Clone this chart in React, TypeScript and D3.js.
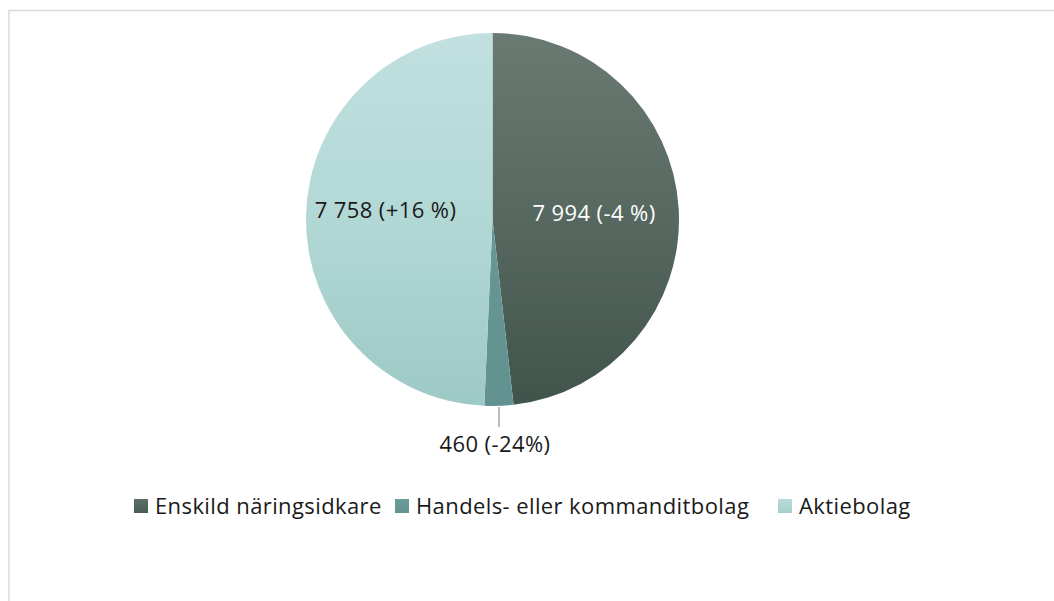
import React from "react";
import * as d3 from "d3";

const categories = ["Enskild näringsidkare", "Handels- eller kommanditbolag", "Aktiebolag"];
// slice shares (percent of the circle)
const shares = [48.2, 2.5, 49.3];
const labels = ["7 994 (-4 %)", "460 (-24%)", "7 758 (+16 %)"];
const gradTop = ["#687a71", "#6f9f9d", "#c1e0df"];
const gradMid = ["#56685f", "#689896", "#b2d8d5"];
const gradBottom = ["#41544b", "#619290", "#9dc9c5"];

export default function App() {
  const W = 1054, H = 601;
  const cx = 492.5, cy = 219.5, r = 186.5;
  const pie = d3.pie<number>().sort(null).value((d) => d)(shares);
  const arc = d3.arc<d3.PieArcDatum<number>>().innerRadius(0).outerRadius(r);
  const font = "'Open Sans', 'Noto Sans', sans-serif";
  const fs = 22;
  const ls = 0.4;

  const legendX = [134, 395, 778];
  return (
    <svg width={W} height={H} style={{ position: "absolute", left: 0, top: 0 }}>
      <defs>
        {shares.map((_, i) => (
          <linearGradient key={i} id={`g${i}`} gradientUnits="userSpaceOnUse" x1={0} y1={-r} x2={0} y2={r}>
            <stop offset="0" stopColor={gradTop[i]} />
            <stop offset="0.5" stopColor={gradMid[i]} />
            <stop offset="1" stopColor={gradBottom[i]} />
          </linearGradient>
        ))}
        {shares.map((_, i) => (
          <linearGradient key={"l" + i} id={`lg${i}`} x1={0} y1={0} x2={0} y2={1}>
            <stop offset="0" stopColor={d3.interpolateRgb(gradTop[i], gradMid[i])(0.6)} />
            <stop offset="1" stopColor={d3.interpolateRgb(gradMid[i], gradBottom[i])(0.6)} />
          </linearGradient>
        ))}
      </defs>
      <rect x={9} y={10.5} width={1100} height={700} fill="#fff" stroke="#d9d9d9" strokeWidth={1.5} />
      <g transform={`translate(${cx},${cy})`}>
        {pie.map((p, i) => (
          <path key={i} d={arc(p) || ""} fill={`url(#g${i})`} />
        ))}
      </g>
      <line x1={499} y1={407} x2={499} y2={427} stroke="#a6a6a6" strokeWidth={1.5} />
      <text x={594} y={221} fill="#ffffff" fontFamily={font} fontSize={fs} letterSpacing={ls} textAnchor="middle">{labels[0]}</text>
      <text x={495} y={452} fill="#1a1a1a" fontFamily={font} fontSize={fs} letterSpacing={ls} textAnchor="middle">{labels[1]}</text>
      <text x={385.5} y={218} fill="#1a1a1a" fontFamily={font} fontSize={fs} letterSpacing={ls} textAnchor="middle">{labels[2]}</text>
      {categories.map((c, i) => (
        <g key={c}>
          <rect x={legendX[i]} y={499} width={14} height={14} fill={`url(#lg${i})`} />
          <text x={legendX[i] + 21} y={514} fill="#1a1a1a" fontFamily={font} fontSize={fs} letterSpacing={ls}>{c}</text>
        </g>
      ))}
    </svg>
  );
}
